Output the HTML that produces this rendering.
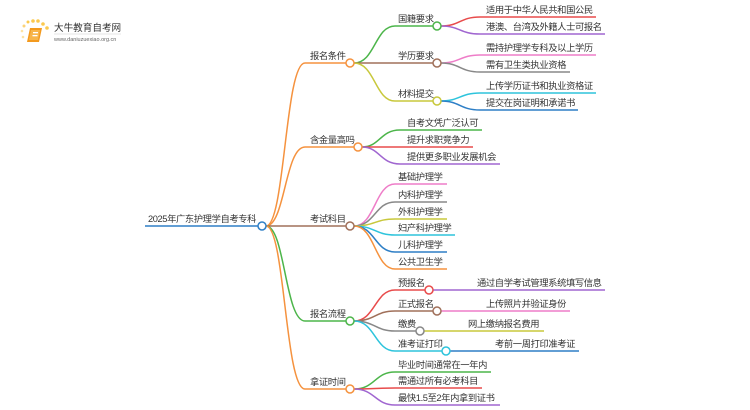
<!DOCTYPE html>
<html><head><meta charset="utf-8"><style>
html,body{margin:0;padding:0;background:#fff;width:750px;height:410px;overflow:hidden}
svg text{font-family:"Liberation Sans","Noto Sans CJK SC",sans-serif;font-size:9.3px;letter-spacing:-0.4px;fill:#333}
</style></head><body>
<svg width="750" height="410" viewBox="0 0 750 410" xmlns="http://www.w3.org/2000/svg" fill="none" stroke-width="1.5">
<g stroke="none">
<circle cx="24" cy="26" r="1.5" fill="#fbd37a"/><circle cx="28" cy="22" r="1.5" fill="#fbc94f"/><circle cx="33" cy="21" r="1.8" fill="#fbc94f"/><circle cx="38" cy="21" r="1.8" fill="#fbc94f"/><circle cx="43" cy="24" r="1.8" fill="#fbc94f"/><circle cx="47" cy="28" r="1.8" fill="#fbc94f"/><circle cx="22" cy="31" r="1.3" fill="#fde3a3"/><circle cx="23" cy="37" r="1.3" fill="#fde3a3"/>
<path d="M30 28 L42 28 L39 42 L27 42 Z" fill="#f39a1e"/>
<path d="M31 30 L40 30 L38 40 L29 40 Z" fill="#f7b54a"/>
<rect x="33" y="32" width="5" height="1.3" fill="#fff"/><rect x="32.5" y="35" width="5" height="1.3" fill="#fff"/>
<text x="54" y="31" style="font-size:9.6px;letter-spacing:0;fill:#333">大牛教育自考网</text>
<line x1="54" y1="34" x2="121" y2="34" stroke="#ccc" stroke-width="0.6"/>
<text x="54" y="41" style="font-size:5.5px;letter-spacing:0;fill:#666">www.daniuzuexiao.org.cn</text>
</g>

<text x="148" y="222">2025年广东护理学自考专科</text>
<path d="M145 226 H258" stroke="#2e7fc6"/>
<path d="M266 226 C285 226,285 63,305 63 H346" stroke="#f5923e"/>
<path d="M266 226 C285 226,285 147,305 147 H354" stroke="#f5923e"/>
<path d="M266 226 H346" stroke="#a0705a"/>
<path d="M266 226 C285 226,285 321,305 321 H346" stroke="#4cb54a"/>
<path d="M266 226 C285 226,285 389,305 389 H346" stroke="#f5923e"/>
<circle cx="262" cy="226" r="4" fill="#fff" stroke="#2e7fc6"/>

<text x="310" y="59">报名条件</text>
<text x="310" y="143">含金量高吗</text>
<text x="310" y="222">考试科目</text>
<text x="310" y="317">报名流程</text>
<text x="310" y="385">拿证时间</text>

<path d="M354 63 C375 63,375 26,395 26 H433" stroke="#4cb54a"/>
<path d="M354 63 H433" stroke="#a0705a"/>
<path d="M354 63 C375 63,375 101,395 101 H433" stroke="#c8c83c"/>
<circle cx="350" cy="63" r="4" fill="#fff" stroke="#f5923e"/>
<text x="398" y="22">国籍要求</text><text x="398" y="59">学历要求</text><text x="398" y="97">材料提交</text>
<path d="M441 26 C460 26,460 17,480 17 H596" stroke="#e84b4b"/>
<path d="M441 26 C460 26,460 34,480 34 H605" stroke="#a066d0"/>
<path d="M441 63 C460 63,460 55,480 55 H596" stroke="#ee7dc8"/>
<path d="M441 63 C460 63,460 72,480 72 H570" stroke="#888"/>
<path d="M441 101 C460 101,460 93,480 93 H596" stroke="#2ec4dc"/>
<path d="M441 101 C460 101,460 110,480 110 H578" stroke="#2e7fc6"/>
<circle cx="437" cy="26" r="4" fill="#fff" stroke="#4cb54a"/>
<circle cx="437" cy="63" r="4" fill="#fff" stroke="#a0705a"/>
<circle cx="437" cy="101" r="4" fill="#fff" stroke="#c8c83c"/>
<text x="486" y="13">适用于中华人民共和国公民</text>
<text x="486" y="30">港澳、台湾及外籍人士可报名</text>
<text x="486" y="51">需持护理学专科及以上学历</text>
<text x="486" y="68">需有卫生类执业资格</text>
<text x="486" y="89">上传学历证书和执业资格证</text>
<text x="486" y="106">提交在岗证明和承诺书</text>

<path d="M362 147 C380 147,380 130,400 130 H482" stroke="#4cb54a"/>
<path d="M362 147 H473" stroke="#e84b4b"/>
<path d="M362 147 C380 147,380 164,400 164 H500" stroke="#a066d0"/>
<circle cx="358" cy="147" r="4" fill="#fff" stroke="#f5923e"/>
<text x="407" y="126">自考文凭广泛认可</text>
<text x="407" y="143">提升求职竞争力</text>
<text x="407" y="160">提供更多职业发展机会</text>

<path d="M354 226 C375 226,375 184,395 184 H447" stroke="#ee7dc8"/>
<path d="M354 226 C375 226,375 202,395 202 H447" stroke="#888"/>
<path d="M354 226 C375 226,375 219,395 219 H447" stroke="#c8c83c"/>
<path d="M354 226 C375 226,375 235,395 235 H455" stroke="#2ec4dc"/>
<path d="M354 226 C375 226,375 252,395 252 H447" stroke="#2e7fc6"/>
<path d="M354 226 C375 226,375 269,395 269 H447" stroke="#f5923e"/>
<circle cx="350" cy="226" r="4" fill="#fff" stroke="#a0705a"/>
<text x="398" y="180">基础护理学</text>
<text x="398" y="198">内科护理学</text>
<text x="398" y="215">外科护理学</text>
<text x="398" y="231">妇产科护理学</text>
<text x="398" y="248">儿科护理学</text>
<text x="398" y="265">公共卫生学</text>

<path d="M354 321 C375 321,375 290,395 290 H425" stroke="#e84b4b"/>
<path d="M354 321 C375 321,375 311,395 311 H433" stroke="#a0705a"/>
<path d="M354 321 C375 321,375 331,395 331 H416" stroke="#888"/>
<path d="M354 321 C375 321,375 351,395 351 H442" stroke="#2ec4dc"/>
<circle cx="350" cy="321" r="4" fill="#fff" stroke="#4cb54a"/>
<text x="398" y="286">预报名</text>
<text x="398" y="307">正式报名</text>
<text x="398" y="327">缴费</text>
<text x="398" y="347">准考证打印</text>
<path d="M433 290 H605" stroke="#a066d0"/>
<path d="M441 311 H570" stroke="#ee7dc8"/>
<path d="M424 331 H544" stroke="#c8c83c"/>
<path d="M450 351 H579" stroke="#2e7fc6"/>
<circle cx="429" cy="290" r="4" fill="#fff" stroke="#e84b4b"/>
<circle cx="437" cy="311" r="4" fill="#fff" stroke="#a0705a"/>
<circle cx="420" cy="331" r="4" fill="#fff" stroke="#888"/>
<circle cx="446" cy="351" r="4" fill="#fff" stroke="#2ec4dc"/>
<text x="477" y="286">通过自学考试管理系统填写信息</text>
<text x="486" y="307">上传照片并验证身份</text>
<text x="468" y="327">网上缴纳报名费用</text>
<text x="495" y="347">考前一周打印准考证</text>

<path d="M354 389 C375 389,375 372,395 372 H491" stroke="#4cb54a"/>
<path d="M354 389 C375 389,375 388,395 388 H482" stroke="#e84b4b"/>
<path d="M354 389 C375 389,375 405,395 405 H500" stroke="#a066d0"/>
<circle cx="350" cy="389" r="4" fill="#fff" stroke="#f5923e"/>
<text x="398" y="368">毕业时间通常在一年内</text>
<text x="398" y="384">需通过所有必考科目</text>
<text x="398" y="401">最快1.5至2年内拿到证书</text>
</svg>
</body></html>
